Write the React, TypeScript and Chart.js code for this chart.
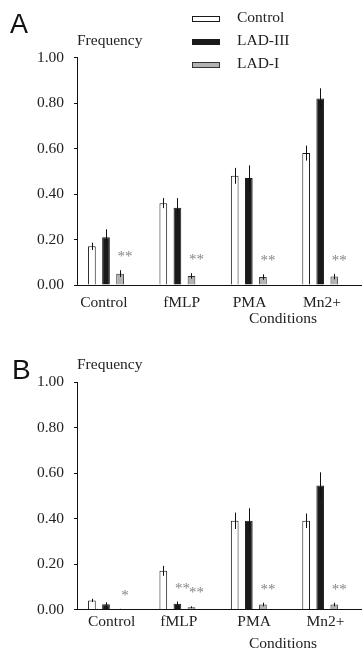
import React, { useEffect, useRef } from 'react';
import { Chart, registerables } from 'chart.js';

Chart.register(...registerables);

// ---------- data ----------
const categories = ['Control', 'fMLP', 'PMA', 'Mn2+'];
const seriesNames = ['Control', 'LAD-III', 'LAD-I'];
const yTickValues = [0, 0.2, 0.4, 0.6, 0.8, 1.0];

// Panel A
const aControl = [0.17, 0.36, 0.48, 0.58];
const aControlErr = [0.016, 0.022, 0.035, 0.033];
const aLad3 = [0.21, 0.34, 0.47, 0.82];
const aLad3Err = [0.035, 0.042, 0.056, 0.045];
const aLad1 = [0.05, 0.04, 0.035, 0.037];
const aLad1Err = [0.015, 0.012, 0.012, 0.012];
const aSigControl = ['', '', '', ''];
const aSigLad3 = ['', '', '', ''];
const aSigLad1 = ['**', '**', '**', '**'];

// Panel B
const bControl = [0.04, 0.17, 0.39, 0.39];
const bControlErr = [0.007, 0.022, 0.036, 0.032];
const bLad3 = [0.023, 0.025, 0.39, 0.545];
const bLad3Err = [0.009, 0.01, 0.055, 0.058];
const bLad1 = [0.002, 0.01, 0.022, 0.022];
const bLad1Err = [0.001, 0.004, 0.008, 0.008];
const bSigControl = ['', '', '', ''];
const bSigLad3 = ['', '**', '', ''];
const bSigLad1 = ['*', '**', '**', '**'];

// ---------- styles ----------
const SERIF = '"Liberation Serif", "Times New Roman", Times, serif';
const SANS = '"Liberation Sans", Arial, Helvetica, sans-serif';
const TEXT = '#222222';
const AXIS = '#111111';
const FILLS = ['#ffffff', '#1a1a1a', '#b3b3b3'];
const BORDERS = ['#1a1a1a', '#1a1a1a', '#333333'];
const X_MIN = 0.594;
const X_MAX = 4.585;
const W = 362;
const H = 326;

type Panel = {
  letter: string;
  letterX: number;
  letterY: number;
  letterSize: number;
  padTop: number;
  titlePadBottom: number;
  bottomHeight: number;
  labelPad: number;
  labelShift: number[];
  conditionsDy: number;
  legend: boolean;
  values: number[][];
  errors: number[][];
  sig: string[][];
};

const panelA: Panel = {
  letter: 'A', letterX: 10, letterY: 33, letterSize: 27,
  padTop: 32, titlePadBottom: 7, bottomHeight: 41, labelPad: 9,
  labelShift: [-0.03, 0.06, 0.01, 0.025], conditionsDy: 33.5, legend: true,
  values: [aControl, aLad3, aLad1],
  errors: [aControlErr, aLad3Err, aLad1Err],
  sig: [aSigControl, aSigLad3, aSigLad1],
};

const panelB: Panel = {
  letter: 'B', letterX: 12, letterY: 52.5, letterSize: 28,
  padTop: 30, titlePadBottom: 7.4, bottomHeight: 42.5, labelPad: 3,
  labelShift: [0.08, 0.02, 0.075, 0.075], conditionsDy: 34.5, legend: false,
  values: [bControl, bLad3, bLad1],
  errors: [bControlErr, bLad3Err, bLad1Err],
  sig: [bSigControl, bSigLad3, bSigLad1],
};

function makeConfig(p: Panel): any {
  const datasets = p.values.map((vals, d) => ({
    label: seriesNames[d],
    data: vals.map((v, i) => ({ x: i + 1, y: v })),
    errors: p.errors[d],
    sig: p.sig[d],
    backgroundColor: FILLS[d],
    borderColor: BORDERS[d],
    borderWidth: 1,
    categoryPercentage: 0.592,
    barPercentage: 0.546,
  }));

  const decor = {
    id: 'decor',
    afterDatasetsDraw(chart: any) {
      const ctx = chart.ctx;
      const yS = chart.scales.y;
      ctx.save();
      // error bars
      chart.data.datasets.forEach((ds: any, d: number) => {
        const meta = chart.getDatasetMeta(d);
        meta.data.forEach((el: any, i: number) => {
          const v = ds.data[i].y;
          const e = ds.errors[i];
          const x = Math.round(el.x) + 0.5;
          ctx.strokeStyle = '#111';
          ctx.lineWidth = 1;
          ctx.beginPath();
          ctx.moveTo(x, yS.getPixelForValue(v + e));
          ctx.lineTo(x, yS.getPixelForValue(Math.max(0, v - e)));
          ctx.stroke();
        });
      });
      // significance marks
      ctx.font = `15px ${SERIF}`;
      ctx.fillStyle = '#858585';
      ctx.textAlign = 'center';
      ctx.textBaseline = 'alphabetic';
      chart.data.datasets.forEach((ds: any, d: number) => {
        const meta = chart.getDatasetMeta(d);
        meta.data.forEach((el: any, i: number) => {
          const s = ds.sig[i];
          if (!s) return;
          const top = yS.getPixelForValue(ds.data[i].y + ds.errors[i]);
          ctx.fillText(s, el.x + 5, top - 9);
        });
      });
      ctx.restore();
    },
    afterDraw(chart: any) {
      const ctx = chart.ctx;
      const area = chart.chartArea;
      ctx.save();
      // panel letter
      ctx.font = `${p.letterSize}px ${SANS}`;
      ctx.fillStyle = '#111';
      ctx.textAlign = 'left';
      ctx.textBaseline = 'alphabetic';
      ctx.fillText(p.letter, p.letterX, p.letterY);
      // x axis title
      ctx.font = `15.5px ${SERIF}`;
      ctx.fillStyle = TEXT;
      ctx.textAlign = 'center';
      ctx.textBaseline = 'middle';
      ctx.fillText('Conditions', 283, area.bottom + p.conditionsDy);
      // legend
      if (p.legend) {
        chart.data.datasets.forEach((ds: any, d: number) => {
          const cy = 19 + d * 23.2;
          ctx.fillStyle = ds.backgroundColor;
          ctx.fillRect(192, Math.round(cy - 3), 28, 6);
          ctx.strokeStyle = ds.borderColor;
          ctx.lineWidth = 1;
          ctx.strokeRect(192.5, Math.round(cy - 3) + 0.5, 27, 5);
          ctx.fillStyle = TEXT;
          ctx.textAlign = 'left';
          ctx.textBaseline = 'middle';
          ctx.font = `15.5px ${SERIF}`;
          ctx.fillText(ds.label, 237, cy - 1.5);
        });
      }
      ctx.restore();
    },
  };

  const tickFont = { family: SERIF, size: 15.5 };

  return {
    type: 'bar',
    data: { datasets },
    plugins: [decor],
    options: {
      responsive: false,
      animation: false,
      devicePixelRatio: 1,
      layout: { padding: { top: p.padTop, left: 0, right: 0, bottom: 0 } },
      plugins: {
        legend: { display: false },
        tooltip: { enabled: false },
        title: {
          display: true,
          text: 'Frequency',
          align: 'start',
          fullSize: false,
          color: TEXT,
          font: { family: SERIF, size: 15.5, weight: 'normal', lineHeight: 1.2 },
          padding: { top: 0, bottom: p.titlePadBottom },
        },
      },
      scales: {
        x: {
          type: 'linear',
          position: 'bottom',
          offset: false,
          weight: 0,
          min: X_MIN,
          max: X_MAX,
          afterBuildTicks: (s: any) => { s.ticks = categories.map((_, i) => ({ value: i + 1 })); },
          afterFit: (s: any) => { s.height = 0; },
          ticks: { display: false },
          grid: { display: false, drawTicks: false, offset: false },
          border: { display: true, color: AXIS, width: 1 },
        },
        x2: {
          type: 'linear',
          position: 'bottom',
          offset: false,
          weight: 1,
          min: X_MIN,
          max: X_MAX,
          afterBuildTicks: (s: any) => {
            s.ticks = categories.map((_, i) => ({ value: i + 1 + p.labelShift[i] }));
          },
          afterFit: (s: any) => { s.height = p.bottomHeight; },
          ticks: {
            callback: (_v: any, i: number) => categories[i],
            autoSkip: false,
            maxRotation: 0,
            minRotation: 0,
            padding: p.labelPad,
            color: TEXT,
            font: tickFont,
          },
          grid: { display: false, drawTicks: false, offset: false },
          border: { display: false },
        },
        y: {
          type: 'linear',
          min: 0,
          max: 1,
          afterBuildTicks: (s: any) => { s.ticks = yTickValues.map((v) => ({ value: v })); },
          afterFit: (s: any) => { s.width = 77; },
          ticks: {
            callback: (v: any) => Number(v).toFixed(2),
            padding: 10,
            color: TEXT,
            font: tickFont,
          },
          grid: { display: true, drawOnChartArea: false, drawTicks: true, tickLength: 3, color: AXIS, lineWidth: 1 },
          border: { display: true, color: AXIS, width: 1 },
        },
      },
    },
  };
}

function PanelChart({ panel, top }: { panel: Panel; top: number }) {
  const ref = useRef<HTMLCanvasElement | null>(null);
  useEffect(() => {
    if (!ref.current) return;
    const chart = new Chart(ref.current, makeConfig(panel));
    return () => chart.destroy();
  }, [panel]);
  return (
    <canvas
      ref={ref}
      width={W}
      height={H}
      style={{ position: 'absolute', left: 0, top, width: W, height: H, display: 'block' }}
    />
  );
}

export default function App() {
  return (
    <div style={{ position: 'fixed', left: 0, top: 0, width: W, height: 652, background: '#ffffff', overflow: 'hidden' }}>
      <PanelChart panel={panelA} top={0} />
      <PanelChart panel={panelB} top={326} />
    </div>
  );
}
